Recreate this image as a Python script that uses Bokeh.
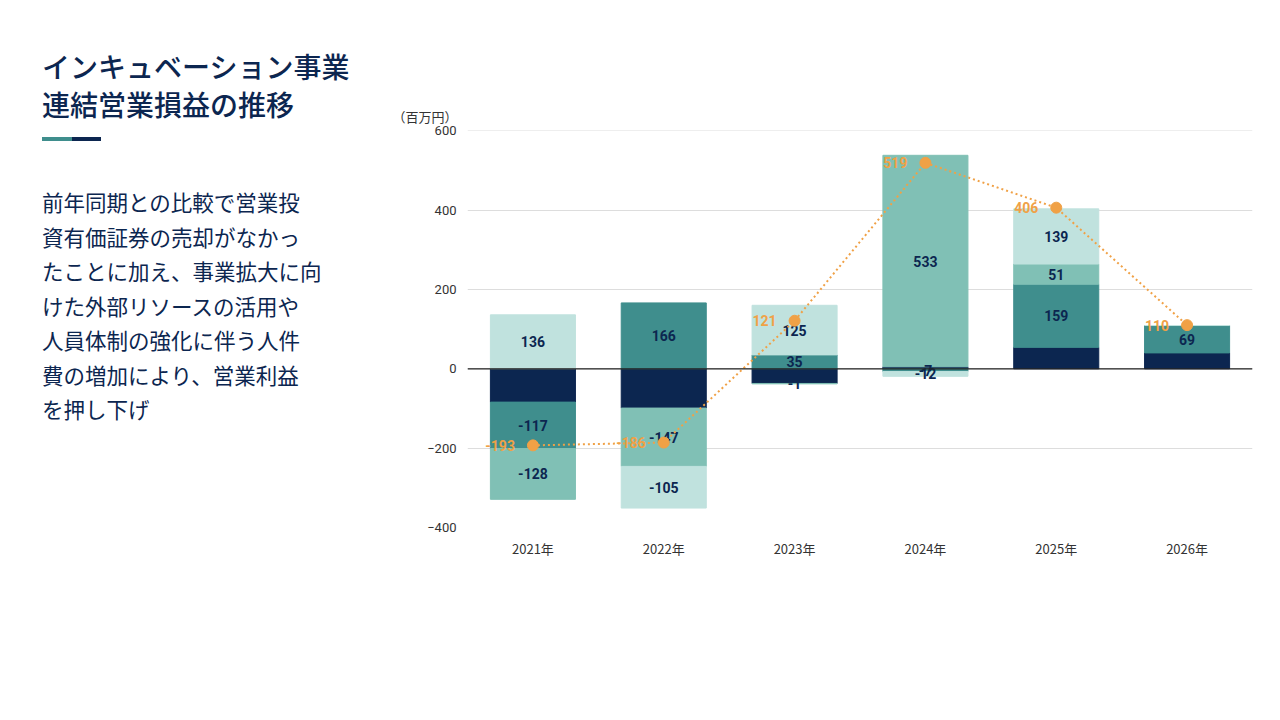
from bokeh.plotting import figure
from bokeh.models import ColumnDataSource, Legend, LegendItem, Div, Span, FactorRange, Range1d, FixedTicker
from bokeh.layouts import row, column
from bokeh.embed import file_html
from bokeh.resources import INLINE
from bokeh.core.properties import value

years = ["2021年", "2022年", "2023年", "2024年", "2025年", "2026年"]
q1 = [-84, -99, -37, 5, 54, 40]
q2 = [-117, 166, 35, -7, 159, 69]
q3 = [-128, -147, -1, 533, 51, 0]
q4 = [136, -105, 125, -12, 139, 0]
total = [-193, -186, 121, 519, 406, 110]
q_labels = [["-84", "-117", "-128", "136"], ["-99", "166", "-147", "-105"],
            ["-37", "35", "-1", "125"], ["", "-7", "533", "-12"],
            ["54", "159", "51", "139"], ["40", "69", "", ""]]
names = ["1Q", "2Q", "3Q", "4Q"]
colors = ["#0c2650", "#3f8e8d", "#80c0b5", "#c0e2de"]
orange = "#f0a146"
navy = "#0c2650"
FONT = "Roboto"
JP = "Noto Sans CJK JP"

p = figure(frame_width=785, frame_height=397, x_range=FactorRange(*years, range_padding=0.0),
           y_range=Range1d(-400, 600.5), output_backend="svg", toolbar_location=None,
           min_border_left=85, min_border_right=14, min_border_top=78, min_border_bottom=10)
p.outline_line_color = None
p.title.text = "（百万円）"
p.title.text_font = JP
p.title.text_font_style = "normal"
p.title.text_font_size = "13px"
p.title.text_color = "#333333"
p.title.offset = -75
p.yaxis.ticker = FixedTicker(ticks=[-400, -200, 0, 200, 400, 600])
p.yaxis.axis_line_color = None
p.yaxis.major_tick_line_color = None
p.yaxis.minor_tick_line_color = None
p.yaxis.major_label_text_font = FONT
p.yaxis.major_label_text_font_size = "13px"
p.yaxis.major_label_text_color = "#333333"
p.xaxis.axis_line_color = None
p.xaxis.major_tick_line_color = None
p.xaxis.major_label_text_font = JP
p.xaxis.major_label_text_font_size = "13px"
p.xaxis.major_label_text_color = "#333333"
p.xgrid.grid_line_color = None
p.ygrid.grid_line_color = "#dddddd"

series = [q1, q2, q3, q4]
pos = [0] * 6
neg = [0] * 6
renderers = []
lx, ly, lt = [], [], []
for k, s in enumerate(series):
    bottoms, tops = [], []
    for i, v in enumerate(s):
        if v >= 0:
            b, t = pos[i], pos[i] + v
            pos[i] = t
        else:
            b, t = neg[i] + v, neg[i]
            neg[i] = b
        bottoms.append(b); tops.append(t)
        if q_labels[i][k]:
            lx.append(years[i]); ly.append((b + t) / 2); lt.append(q_labels[i][k])
    src = ColumnDataSource(dict(x=years, bottom=bottoms, top=tops))
    r = p.vbar(x="x", bottom="bottom", top="top", width=0.65, color=colors[k], source=src)
    renderers.append(r)

p.add_layout(Span(location=0, dimension="width", line_color="#222222", line_width=1.2))

p.text(x=lx, y=ly, text=lt, text_align="center", text_baseline="middle",
       text_font=value(FONT), text_font_style="bold", text_font_size="14px", text_color=navy)

lr = p.line(x=years, y=total, line_color=orange, line_width=2, line_dash="2 3")
cr = p.scatter(x=years, y=total, size=11, color=orange)
p.text(x=years, y=total, text=[str(t) for t in total], x_offset=-18, text_align="right",
       text_baseline="middle", text_font=value(FONT), text_font_style="bold",
       text_font_size="14px", text_color=orange)

items = [LegendItem(label=n, renderers=[r]) for n, r in zip(names, renderers)]
items.append(LegendItem(label="合計", renderers=[cr]))
leg = Legend(items=items, orientation="horizontal", location="center",
             label_text_font=JP, label_text_font_size="15px", label_text_color="#333333",
             glyph_width=16, glyph_height=16, spacing=18, border_line_color=None,
             margin=14, padding=4)
p.add_layout(leg, "below")

left = Div(width=372, height=560, text="""
<div style="font-family:'Noto Sans CJK JP';color:#0c2650;">
<div style="position:absolute;left:37px;top:-10px;font-size:28px;line-height:38px;font-weight:500;">インキュベーション事業<br>連結営業損益の推移</div>
<div style="position:absolute;left:37px;top:80px;width:30px;height:4px;background:#3f8e8d;"></div>
<div style="position:absolute;left:67px;top:80px;width:29px;height:4px;background:#0c2650;"></div>
<div style="position:absolute;left:37px;top:128px;font-size:21.5px;line-height:34.5px;color:#0c2650;">前年同期との比較で営業投<br>資有価証券の売却がなかっ<br>たことに加え、事業拡大に向<br>けた外部リソースの活用や<br>人員体制の強化に伴う人件<br>費の増加により、営業利益<br>を押し下げ</div>
</div>""")

footer = Div(width=1264, height=60, text="""
<div style="position:relative;width:1264px;height:60px;">
<div style="position:absolute;left:0;width:1264px;top:18px;text-align:center;font-family:'Liberation Sans';font-size:14px;color:#222;">Copyright © Gaiax Co.Ltd. All Rights Reserved.</div>
<div style="position:absolute;left:1222px;top:18px;font-family:'Liberation Sans';font-size:14px;color:#222;">41</div>
<div style="position:absolute;left:-8px;top:44px;width:1280px;height:8px;background:#0c2650;"></div>
</div>""")

top_spacer = Div(width=1264, height=42, text="")
layout = column(top_spacer, row(left, p), footer)
open("out.html", "w").write(file_html(layout, INLINE))
